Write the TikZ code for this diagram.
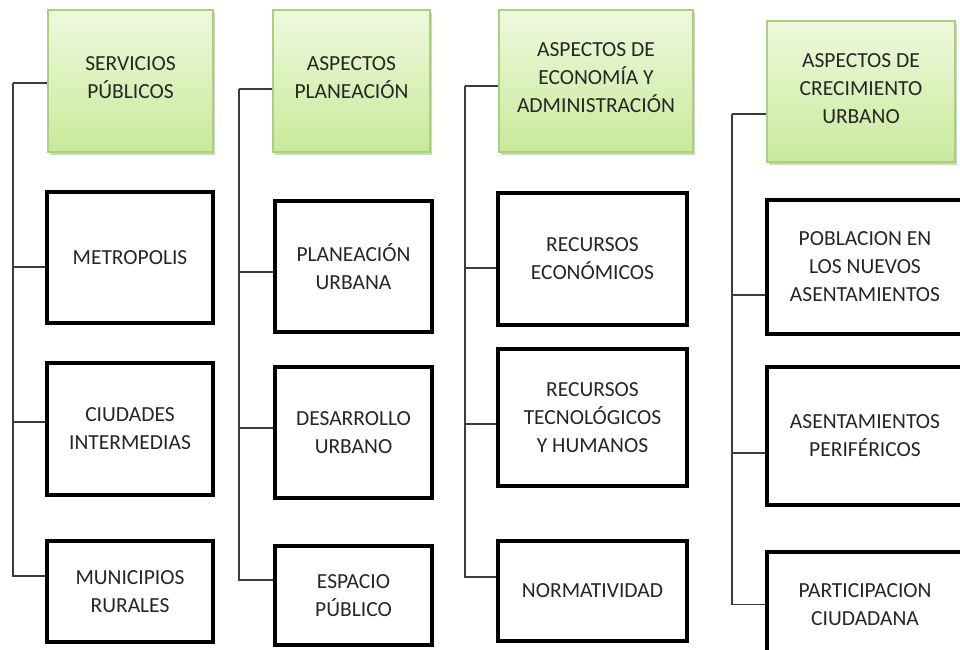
\documentclass[tikz,border=0pt]{standalone}
\usepackage{fontspec}
\setmainfont{Carlito}
\usetikzlibrary{shadows}
\definecolor{hdrtop}{HTML}{EEF9DD}
\definecolor{hdrbot}{HTML}{C8EA9A}
\definecolor{hdrline}{HTML}{A9D17B}
\definecolor{linkgray}{HTML}{3C3C3C}
\definecolor{txt}{HTML}{262626}
\tikzset{
  hdr/.style = {
    draw=hdrline, line width=1.2pt,
    top color=hdrtop, bottom color=hdrbot,
    drop shadow={shadow xshift=1.5pt, shadow yshift=-2.5pt, opacity=.3, fill=black!60},
    inner sep=0pt, align=center, text=txt, text depth=6pt,
    font=\fontsize{21.5}{28}\selectfont
  },
  box/.style = {
    draw=black, line width=3.5pt, fill=white,
    inner sep=0pt, align=center, text=txt,
    font=\fontsize{21.5}{28}\selectfont
  },
  link/.style = {draw=linkgray, line width=1.4pt}
}

\begin{document}
\begin{tikzpicture}[x=1pt,y=1pt]
  \clip (0,0) rectangle (960,-649);
  % encabezados
  \node[hdr, minimum width=165, minimum height=142] (sp) at (130.5,-81) {SERVICIOS\\PÚBLICOS};
  \node[hdr, minimum width=157, minimum height=142] (ap) at (351.5,-81) {ASPECTOS\\PLANEACIÓN};
  \node[hdr, minimum width=194, minimum height=142] (ae) at (596,-81) {ASPECTOS DE\\ECONOMÍA Y\\ADMINISTRACIÓN};
  \node[hdr, minimum width=188, minimum height=141] (ac) at (861,-91.5) {ASPECTOS DE\\CRECIMIENTO\\URBANO};
  % servicios
  \node[box, minimum width=166, minimum height=131] (met) at (130,-257.5) {METROPOLIS};
  \node[box, minimum width=166, minimum height=132] (ciu) at (130,-429) {CIUDADES\\INTERMEDIAS};
  \node[box, minimum width=166, minimum height=101] (mun) at (130,-591.5) {MUNICIPIOS\\RURALES};
  % planeacion
  \node[box, minimum width=157, minimum height=131] (plu) at (353.5,-266.5) {PLANEACIÓN\\URBANA};
  \node[box, minimum width=157, minimum height=131] (des) at (353.5,-432.5) {DESARROLLO\\URBANO};
  \node[box, minimum width=157, minimum height=99] (esp) at (353.5,-595.5) {ESPACIO\\PÚBLICO};
  % economia
  \node[box, minimum width=189, minimum height=132] (rec) at (592.5,-259) {RECURSOS\\ECONÓMICOS};
  \node[box, minimum width=189, minimum height=137] (tec) at (592.5,-417.5) {RECURSOS\\TECNOLÓGICOS\\Y HUMANOS};
  \node[box, minimum width=189, minimum height=100] (nor) at (592.5,-591) {NORMATIVIDAD};
  % crecimiento
  \node[box, minimum width=196, minimum height=134] (pob) at (865,-267) {POBLACION EN\\LOS NUEVOS\\ASENTAMIENTOS};
  \node[box, minimum width=196, minimum height=138] (ase) at (865,-436) {ASENTAMIENTOS\\PERIFÉRICOS};
  \node[box, minimum width=196, minimum height=105] (par) at (865,-604.5) {PARTICIPACION\\CIUDADANA};
  % troncos
  \coordinate (t1) at (13,-83);
  \coordinate (t2) at (239,-89);
  \coordinate (t3) at (465,-86);
  \coordinate (t4) at (732,-114);
  \foreach \n/\d/\t in {sp/-2/t1, met/-9.5/t1, ciu/7/t1, mun/15.5/t1,
                        ap/-8/t2, plu/-5.5/t2, des/4.5/t2, esp/15.5/t2,
                        ae/-5/t3, rec/-9/t3, tec/-6.5/t3, nor/14/t3,
                        ac/-22.5/t4, pob/-28/t4, ase/-17/t4, par/0/t4}
    \draw[link] ([yshift=\d pt]\n.west) -| (\t);
\end{tikzpicture}
\end{document}
